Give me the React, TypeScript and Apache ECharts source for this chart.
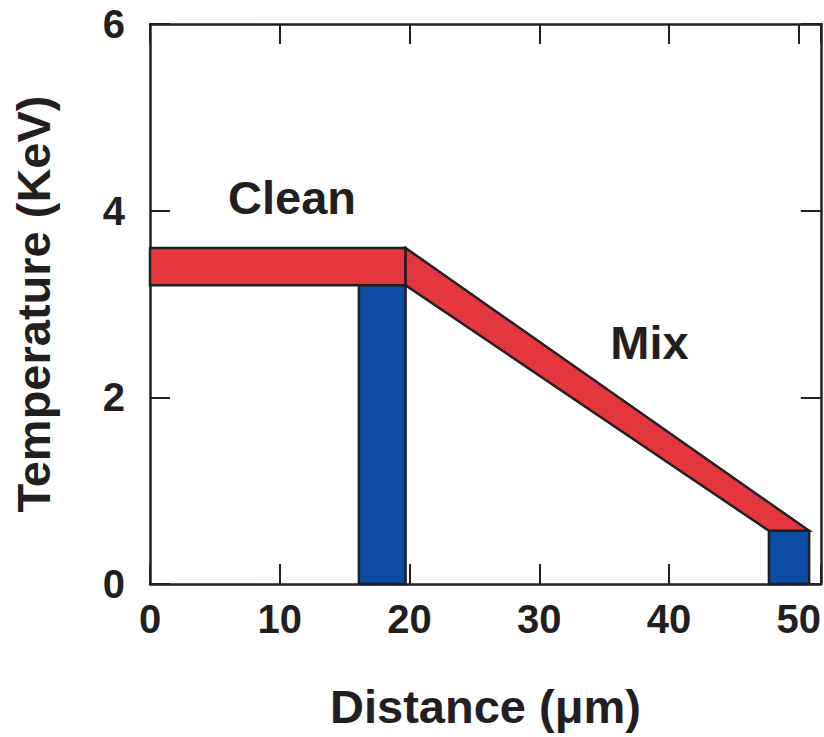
import React, { useEffect, useRef } from "react";
import * as echarts from "echarts";

// Axis extents and ticks
const xTicks = [0, 10, 20, 30, 40, 50];
const yTicks = [0, 2, 4, 6];
const xMax = 51.7;

// Red band: "Clean" plateau then "Mix" slope (x, y pairs in data units)
const cleanBandX = [0, 19.7, 19.7, 0];
const cleanBandY = [3.6, 3.6, 3.2, 3.2];
const mixBandX = [19.7, 50.8, 47.7, 19.7];
const mixBandY = [3.6, 0.57, 0.57, 3.2];

// Blue bars
const barStart = [16.1, 47.7];
const barEnd = [19.7, 50.8];
const barTop = [3.2, 0.57];

// Annotations
const noteText = ["Clean", "Mix"];
const noteX = [10.95, 38.5];
const noteY = [4.14, 2.59];

const INK = "#231f20";
const RED = "#e3363f";
const BLUE = "#0b4da2";
const FONT = "'Liberation Sans', Arial, Helvetica, sans-serif";

export default function App() {
  const ref = useRef<HTMLDivElement>(null);
  useEffect(() => {
    if (!ref.current) return;
    const chart = echarts.init(ref.current, undefined, { renderer: "svg" });

    const polys = [
      { xs: cleanBandX, ys: cleanBandY, fill: RED },
      { xs: mixBandX, ys: mixBandY, fill: RED },
    ];

    const axisCommon = {
      axisLine: { show: true, onZero: false, lineStyle: { color: INK, width: 2.5 } },
      axisTick: { show: true, inside: true, length: 20, lineStyle: { color: INK, width: 2 } },
      splitLine: { show: false },
    };

    const option: any = {
      animation: false,
      backgroundColor: "#ffffff",
      grid: { left: 150, right: 2, top: 24, bottom: 153, containLabel: false },
      xAxis: [
        {
          type: "value",
          position: "bottom",
          min: 0,
          max: xMax,
          interval: 10,
          ...axisCommon,
          axisLabel: {
            show: true,
            margin: 15,
            color: INK,
            fontSize: 40,
            fontWeight: "bold",
            fontFamily: FONT,
            formatter: (v: number) => (xTicks.includes(v) ? String(v) : ""),
          },
          name: "Distance (μm)",
          nameLocation: "middle",
          nameGap: 99,
          nameTextStyle: { color: INK, fontSize: 47, fontWeight: "bold", fontFamily: FONT },
        },
        {
          type: "value",
          position: "top",
          min: 0,
          max: xMax,
          interval: 10,
          ...axisCommon,
          axisLabel: { show: false },
        },
      ],
      yAxis: [
        {
          type: "value",
          position: "left",
          min: 0,
          max: 6,
          interval: 2,
          ...axisCommon,
          axisLabel: {
            show: true,
            margin: 25,
            color: INK,
            fontSize: 40,
            fontWeight: "bold",
            fontFamily: FONT,
            formatter: (v: number) => (yTicks.includes(v) ? String(v) : ""),
          },
          name: "Temperature (KeV)",
          nameLocation: "middle",
          nameGap: 93,
          nameRotate: 90,
          nameTextStyle: { color: INK, fontSize: 47, fontWeight: "bold", fontFamily: FONT },
        },
        {
          type: "value",
          position: "right",
          min: 0,
          max: 6,
          interval: 2,
          ...axisCommon,
          axisLabel: { show: false },
        },
      ],
      series: [
        {
          type: "custom",
          xAxisIndex: 0,
          yAxisIndex: 0,
          data: barStart.map((s, i) => [s, barEnd[i], barTop[i]]),
          renderItem: (params: any, api: any) => {
            const x0 = api.value(0);
            const x1 = api.value(1);
            const top = api.value(2);
            const p0 = api.coord([x0, top]);
            const p1 = api.coord([x1, 0]);
            return {
              type: "rect",
              shape: { x: p0[0], y: p0[1], width: p1[0] - p0[0], height: p1[1] - p0[1] },
              style: { fill: BLUE, stroke: INK, lineWidth: 2.5 },
            };
          },
          z: 2,
        },
        {
          type: "custom",
          xAxisIndex: 0,
          yAxisIndex: 0,
          data: polys.map((_, i) => [i]),
          renderItem: (params: any, api: any) => {
            const p = polys[params.dataIndex];
            const points = p.xs.map((x, k) => api.coord([x, p.ys[k]]));
            return {
              type: "polygon",
              shape: { points },
              style: { fill: p.fill, stroke: INK, lineWidth: 2.5, lineJoin: "miter" },
            };
          },
          z: 3,
        },
        {
          type: "custom",
          xAxisIndex: 0,
          yAxisIndex: 0,
          data: noteText.map((t, i) => [noteX[i], noteY[i], t]),
          renderItem: (params: any, api: any) => {
            const c = api.coord([api.value(0), api.value(1)]);
            return {
              type: "text",
              x: c[0],
              y: c[1],
              style: {
                text: noteText[params.dataIndex],
                fill: INK,
                font: `bold 47px ${FONT}`,
                align: "center",
                verticalAlign: "middle",
              },
            };
          },
          z: 4,
        },
      ],
    };

    chart.setOption(option);
    return () => chart.dispose();
  }, []);

  return (
    <div
      ref={ref}
      style={{ position: "fixed", left: 0, top: 0, width: 824, height: 737, background: "#fff" }}
    />
  );
}
